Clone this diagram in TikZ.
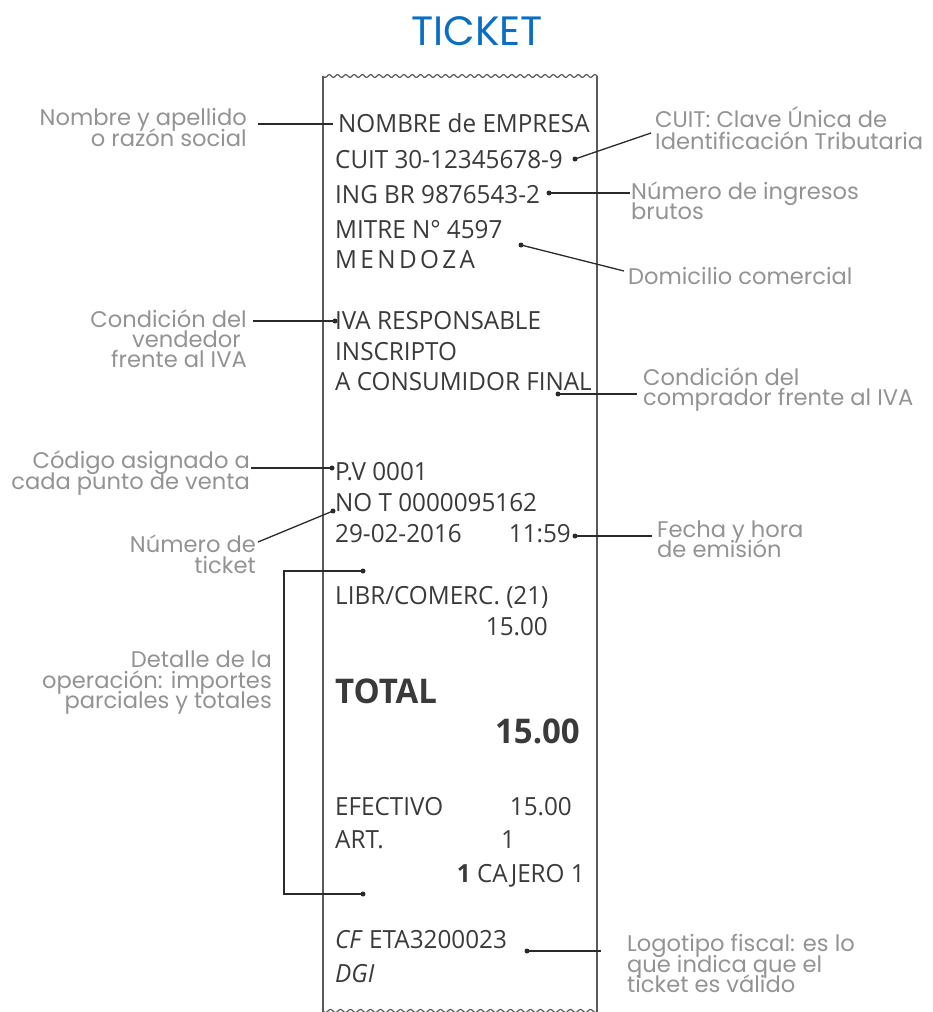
\documentclass[tikz,border=0pt]{standalone}
\usepackage{fontspec}
\setmainfont{Open Sans}[FakeStretch=0.97]
\newfontfamily\lblfam{Poppins}
\definecolor{tickettxt}{HTML}{3A3A3A}
\definecolor{lblgray}{HTML}{939393}
\definecolor{linec}{HTML}{2A2A2A}
\definecolor{edgec}{HTML}{5A5A5A}
\definecolor{titleblue}{HTML}{0A6FC2}
\newcommand\tkfont{\fontsize{25}{30}\selectfont}
\newcommand\tkbig{\fontsize{34}{38}\selectfont\bfseries}
\newcommand\lblfont{\lblfam\fontsize{22.6}{24}\selectfont}
\begin{document}
\begin{tikzpicture}[x=1pt,y=-1pt,
  tk/.style={inner sep=0pt, font=\tkfont, text=tickettxt, anchor=base west},
  tkr/.style={tk, anchor=base east},
  lblL/.style={inner sep=0pt, font=\lblfont, text=lblgray, anchor=base west},
  lblR/.style={lblL, anchor=base east},
  conn/.style={draw=linec, line width=1.3pt},
  dotm/.style={circle, fill=linec, inner sep=0pt, minimum size=5pt},
  tkedge/.style={draw=edgec, line width=1.2pt}]
\useasboundingbox (0,0) rectangle (933,1012);
% title
\node[font=\lblfam\fontsize{41}{44}\selectfont, text=titleblue, inner sep=0pt, anchor=base] (title) at (477,45) {TICKET};
% ticket outline
\draw[tkedge] plot[domain=0:274, samples=400, smooth] ({323+\x},{76+1.4*sin(\x*43.37)});
\draw[tkedge] plot[domain=0:274, samples=400, smooth] ({323+\x},{1011+1.5*sin(\x*36)});
\draw[tkedge] (323,76) -- (323,1012);
\draw[tkedge] (597,76) -- (597,1012);
% ticket text
\node[tk] (t1) at (338,132) {NOMBRE de EMPRESA};
\node[tk] (t2) at (335,168) {CUIT 30-12345678-9};
\node[tk] (t3) at (335,203) {ING BR 9876543-2};
\node[tk] (t4) at (335,238) {MITRE N° 4597};
\node[tk] (t5) at (335,268) {M\kern3.4pt E\kern3.4pt N\kern3.4pt D\kern3.4pt O\kern3.4pt Z\kern3.4pt A};
\node[tk] (t6) at (335,329) {IVA RESPONSABLE};
\node[tk] (t7) at (335,360) {INSCRIPTO};
\node[tk] (t8) at (335,390) {A CONSUMIDOR FINAL};
\node[tk] (t9) at (335,480) {P.V 0001};
\node[tk] (t10) at (335,511) {NO T 0000095162};
\node[tk] (t11) at (335,542) {29-02-2016};
\node[tkr] (t12) at (571,542) {11:59};
\node[tk] (t13) at (335,604) {LIBR/COMERC. (21)};
\node[tkr] (t14) at (548,635) {15.00};
\node[tk, font=\tkbig] (t15) at (335,703) {TOTAL};
\node[tkr, font=\tkbig] (t16) at (580,743) {15.00};
\node[tk] (t17) at (335,815) {EFECTIVO};
\node[tkr] (t18) at (572,815) {15.00};
\node[tk] (t19) at (335,848) {ART.};
\node[tk] (t20) at (501,848) {1};
\node[tkr] (t21) at (585,882) {\textbf{1} CAJERO 1};
\node[tk] (t22) at (335,948) {\textit{CF} ETA3200023};
\node[tk] (t23) at (335,982) {\textit{DGI}};
% labels
\node[lblR] (l1a) at (247,125) {Nombre y apellido};
\node[lblR] (l1b) at (247,146) {o razón social};
\node[lblL] (l2a) at (655,127) {CUIT: Clave Única de};
\node[lblL] (l2b) at (655,149) {Identificación Tributaria};
\node[lblL] (l3a) at (631,199) {Número de ingresos};
\node[lblL] (l3b) at (631,219) {brutos};
\node[lblL] (l4) at (628,284) {Domicilio comercial};
\node[lblR] (l5a) at (247,327) {Condición del};
\node[lblR] (l5b) at (241,347) {vendedor};
\node[lblR] (l5c) at (247,367) {frente al IVA};
\node[lblL] (l6a) at (643,385) {Condición del};
\node[lblL] (l6b) at (643,405) {comprador frente al IVA};
\node[lblR] (l7a) at (250,468) {Código asignado a};
\node[lblR] (l7b) at (250,489) {cada punto de venta};
\node[lblR] (l8a) at (256,552) {Número de};
\node[lblR] (l8b) at (256,573) {ticket};
\node[lblL] (l9a) at (657,537) {Fecha y hora};
\node[lblL] (l9b) at (657,557) {de emisión};
\node[lblR] (l10a) at (272,667) {Detalle de la};
\node[lblR] (l10b) at (272,688) {operación: importes};
\node[lblR] (l10c) at (272,708) {parciales y totales};
\node[lblL] (l11a) at (627,951) {Logotipo fiscal: es lo};
\node[lblL] (l11b) at (627,972) {que indica que el};
\node[lblL] (l11c) at (627,992) {ticket es válido};
% connector ends
\coordinate (e1a) at (258,124); \coordinate (e1b) at (333,124);
\node[dotm] (d2) at (575,159) {}; \coordinate (e2) at (651,133);
\node[dotm] (d3) at (549,193) {}; \coordinate (e3) at (630,193);
\node[dotm] (d4) at (521,245) {}; \coordinate (e4) at (624,271);
\coordinate (e5) at (253,321); \node[dotm] (d5) at (335,321) {};
\node[dotm] (d6) at (558,394) {}; \coordinate (e6) at (637,394);
\coordinate (e7) at (251,468); \node[dotm] (d7) at (332,468) {};
\coordinate (e8) at (258,542); \node[dotm] (d8) at (333,511) {};
\node[dotm] (d9) at (575,536) {}; \coordinate (e9) at (652,536);
\node[dotm] (d10a) at (363,571) {}; \node[dotm] (d10b) at (363,894) {};
\coordinate (e10a) at (284,571); \coordinate (e10b) at (284,894);
\node[dotm] (d11) at (527,951) {}; \coordinate (e11) at (601,951);
% connectors
\draw[conn] (e1a) -- (e1b);
\draw[conn] (d2.center) -- (e2);
\draw[conn] (d3.center) -- (e3);
\draw[conn] (d4.center) -- (e4);
\draw[conn] (e5) -- (d5.center);
\draw[conn] (d6.center) -- (e6);
\draw[conn] (e7) -- (d7.center);
\draw[conn] (e8) -- (d8.center);
\draw[conn] (d9.center) -- (e9);
\draw[conn] (d10a.center) -- (e10a) -- (e10b) -- (d10b.center);
\draw[conn] (d11.center) -- (e11);
\end{tikzpicture}
\end{document}
